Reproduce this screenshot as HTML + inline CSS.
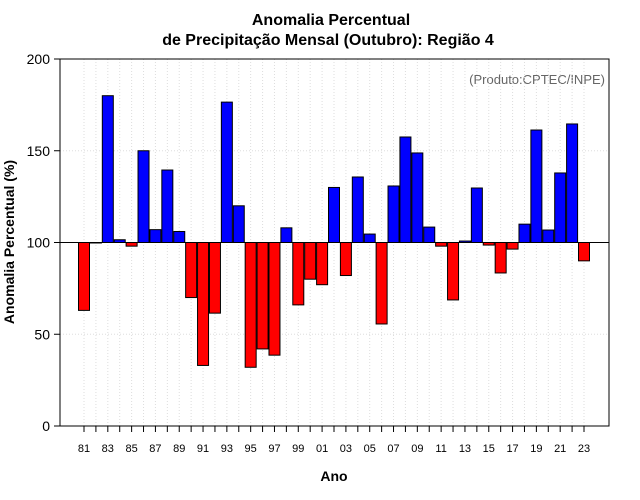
<!DOCTYPE html>
<html><head><meta charset="utf-8"><style>
body{margin:0;background:#fff;}
svg{display:block;font-family:"Liberation Sans",Arial,sans-serif;}
</style></head><body>
<svg id="chart" width="640" height="500">
<text x="331" y="25" text-anchor="middle" font-size="16" font-weight="bold">Anomalia Percentual</text>
<text x="328" y="45" text-anchor="middle" font-size="16" font-weight="bold">de Precipitação Mensal (Outubro): Região 4</text>
<text x="605" y="84" text-anchor="end" font-size="13" fill="#666">(Produto:CPTEC/INPE)</text>
<text x="334" y="481" text-anchor="middle" font-size="14" font-weight="bold">Ano</text>
<text transform="translate(14,242) rotate(-90)" text-anchor="middle" font-size="14" font-weight="bold">Anomalia Percentual (%)</text>
<g id="grid"></g><g id="bars"></g><g id="axes"></g>
</svg>
<script>
const years=[81,82,83,84,85,86,87,88,89,90,91,92,93,94,95,96,97,98,99,0,1,2,3,4,5,6,7,8,9,10,11,12,13,14,15,16,17,18,19,20,21,22,23];
const values=[63,100,180,101.5,98,150,107,139.5,106,70,33,61.5,176.5,120,32,42,38.6,108,66,80,77,130,82,135.7,104.6,55.6,130.8,157.5,148.8,108.4,98,68.7,100.8,129.7,98.6,83.4,96.4,110,161.3,106.8,137.9,164.6,90];
const yTicks=[0,50,100,150,200];
const NS='http://www.w3.org/2000/svg';
const L=60,R=609,T=59,B=426;
function xs(i){return 84+i*(500/42);}
function ys(v){return B-(v/200)*(B-T);}
function mk(tag,attrs,parent){const e=document.createElementNS(NS,tag);for(const k in attrs)e.setAttribute(k,attrs[k]);parent.appendChild(e);return e;}
const grid=document.getElementById('grid'),bars=document.getElementById('bars'),axes=document.getElementById('axes');
years.forEach((y,i)=>{
 const g=mk('line',{x1:xs(i),x2:xs(i),y1:T,y2:B,stroke:'#ddd','stroke-dasharray':'1,2'},grid);
 
 
});
yTicks.forEach(v=>{
 const g=mk('line',{x1:L,x2:R,y1:ys(v),y2:ys(v),stroke:'#ddd','stroke-dasharray':'1,2'},grid);
 
 
});
values.forEach((v,i)=>{
 const y1=ys(Math.max(v,100)),y2=ys(Math.min(v,100));
 const r=mk('rect',{x:xs(i)-5.5,y:y1,width:11,height:Math.max(y2-y1,0.5),fill:v>=100?'#0000ff':'#ff0000',stroke:'#000','stroke-width':1},bars);
 
 
});
const ref=mk('line',{x1:L,x2:R,y1:ys(100),y2:ys(100),stroke:'#000','stroke-width':1},axes);


const box=mk('rect',{x:L,y:T,width:R-L,height:B-T,fill:'none',stroke:'#000'},axes);


yTicks.forEach(v=>{
 const t=mk('line',{x1:L-6,x2:L,y1:ys(v),y2:ys(v),stroke:'#000'},axes);
 
 
 const tx=mk('text',{x:L-10,y:ys(v)+5,'text-anchor':'end','font-size':14},axes);
 tx.textContent=v;
 
 
});
years.forEach((y,i)=>{
 const t=mk('line',{x1:xs(i),x2:xs(i),y1:B,y2:B+6,stroke:'#000'},axes);
 
 
 if(i%2===0){
  const tx=mk('text',{x:xs(i),y:452,'text-anchor':'middle','font-size':11},axes);
  tx.textContent=String(y).padStart(2,'0');
  
  
 }
});
</script>
</body></html>
